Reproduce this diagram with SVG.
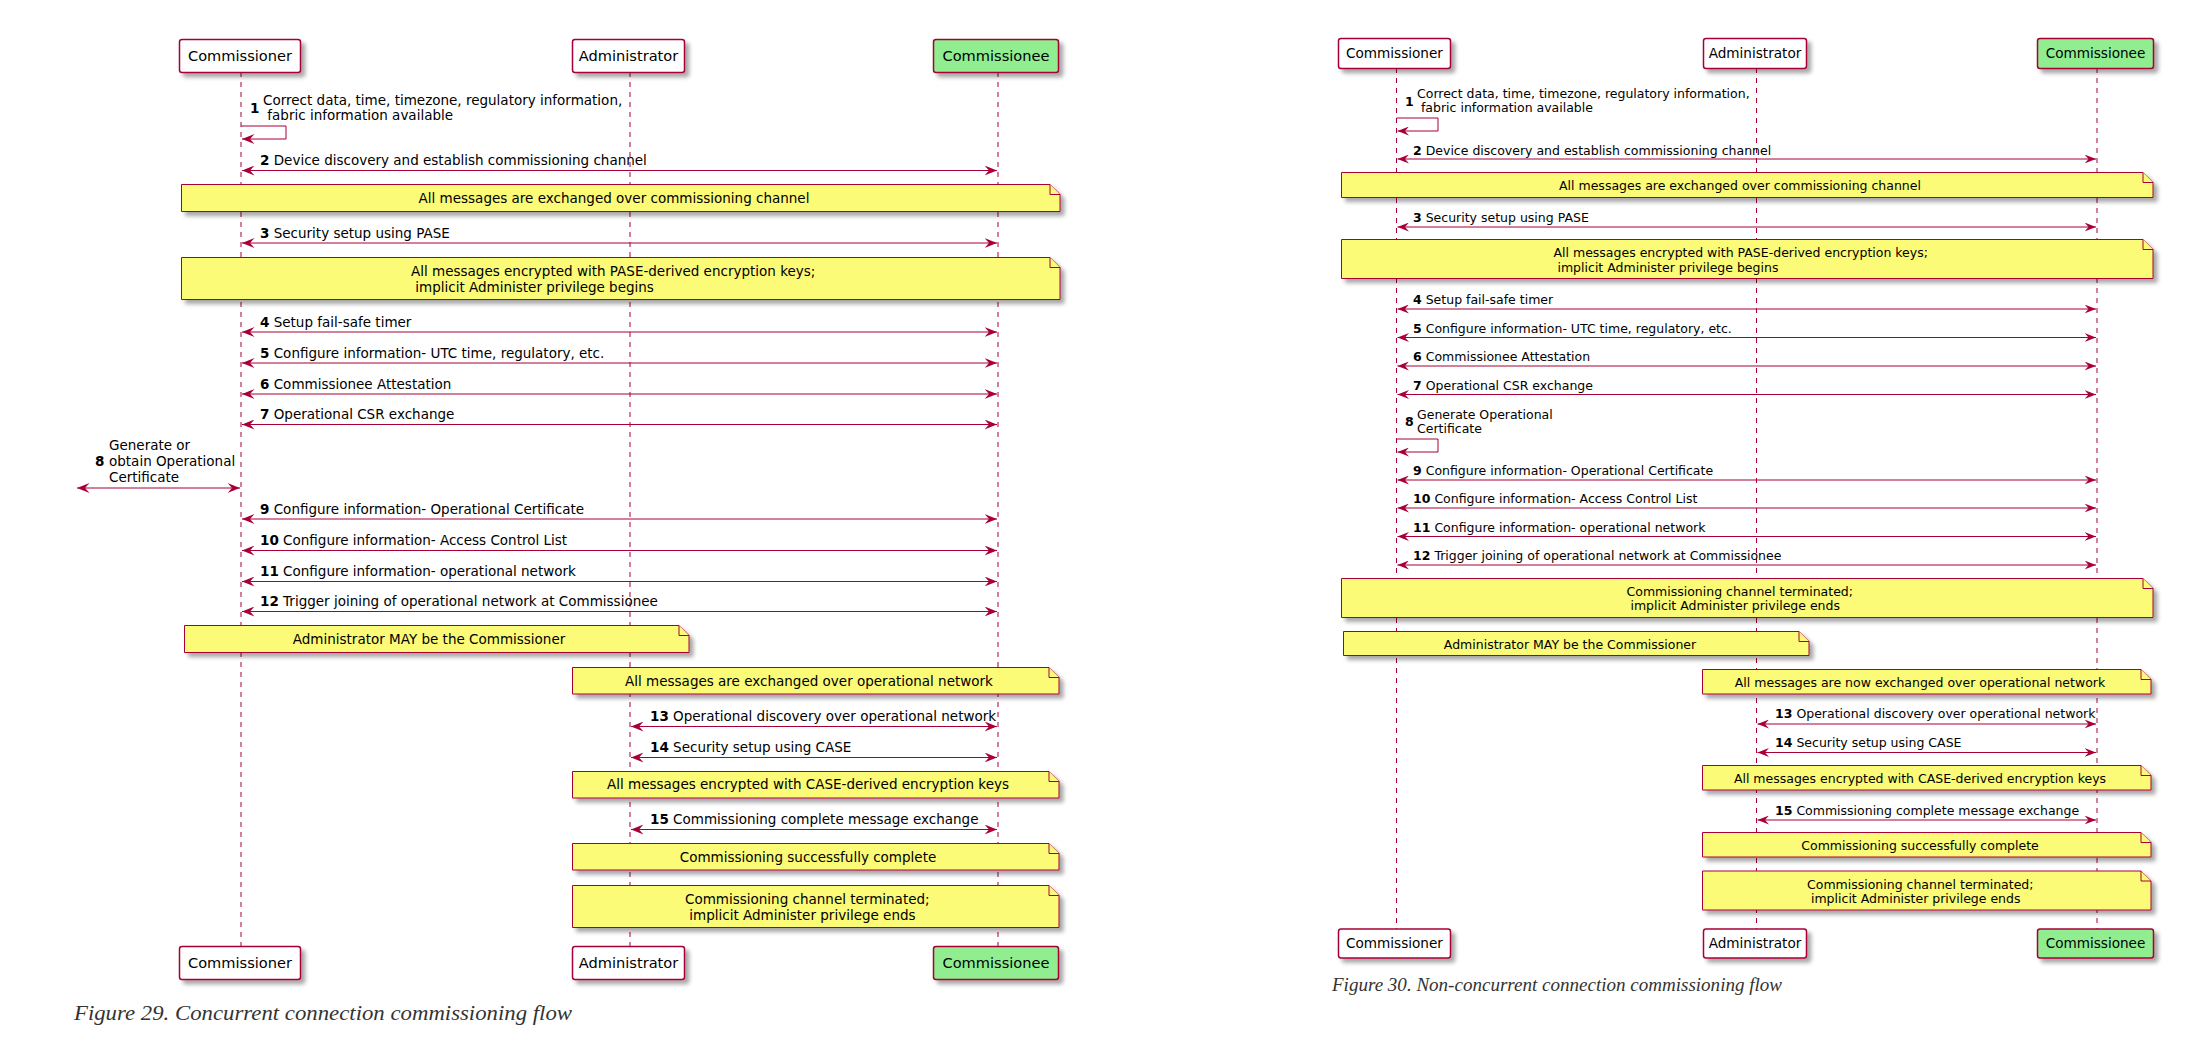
<svg xmlns="http://www.w3.org/2000/svg" width="2209" height="1049" viewBox="0 0 2209 1049">
<style>
text{font-family:"DejaVu Sans",Verdana,sans-serif;fill:#000;white-space:pre}
.box{fill:#fff;stroke:#A80036;stroke-width:1.5;filter:url(#sh)}
.green{fill:#90EE90}
.life{stroke:#A80036;stroke-width:1;stroke-dasharray:5,5;fill:none}
.note{fill:#FBFB77;stroke:#A80036;stroke-width:1;filter:url(#sh)}
.fold{fill:#FBFB77;stroke:#A80036;stroke-width:1}
.mL{stroke:#A80036;stroke-width:1;fill:none;marker-start:url(#aL);marker-end:url(#aL)}
.mR{stroke:#A80036;stroke-width:1;fill:none;marker-start:url(#aR);marker-end:url(#aR)}
.sL{stroke:#A80036;stroke-width:1;fill:none;marker-end:url(#aL)}
.sR{stroke:#A80036;stroke-width:1;fill:none;marker-end:url(#aR)}
.pL{font-size:14.6px;text-anchor:middle}
.pR{font-size:13.6px;text-anchor:middle}
.tL{font-size:13.5px}
.tR{font-size:12.5px}
.c{text-anchor:middle}
.cap{font-family:"Liberation Serif","Times New Roman",serif;font-style:italic;fill:#333}
</style>
<defs>
<filter id="sh" x="-5%" y="-20%" width="115%" height="160%">
<feGaussianBlur in="SourceAlpha" stdDeviation="2"/>
<feOffset dx="4" dy="4" result="o"/>
<feComponentTransfer><feFuncA type="linear" slope="0.35"/></feComponentTransfer>
<feMerge><feMergeNode/><feMergeNode in="SourceGraphic"/></feMerge>
</filter>
<marker id="aL" viewBox="0 0 13 10" refX="12.5" refY="5" markerWidth="13" markerHeight="10" markerUnits="userSpaceOnUse" orient="auto-start-reverse">
<path d="M0,0 L12.5,5 L0,10 L4.5,5 Z" fill="#A80036"/>
</marker>
<marker id="aR" viewBox="0 0 12 9" refX="11.5" refY="4.5" markerWidth="12" markerHeight="9" markerUnits="userSpaceOnUse" orient="auto-start-reverse">
<path d="M0,0 L11.5,4.5 L0,9 L4,4.5 Z" fill="#A80036"/>
</marker>
</defs>
<rect width="2209" height="1049" fill="#fff"/>

<!-- ===== LEFT DIAGRAM (Figure 29) ===== -->
<g id="L-commissioner">
<line class="life" x1="241" y1="72" x2="241" y2="946"/>
<rect class="box" x="179.5" y="39.5" width="121" height="33" rx="2.5"/>
<text class="pL" x="240" y="61">Commissioner</text>
<rect class="box" x="179.5" y="946.5" width="121" height="33" rx="2.5"/>
<text class="pL" x="240" y="968">Commissioner</text>
</g>
<g id="L-administrator">
<line class="life" x1="630" y1="72" x2="630" y2="946"/>
<rect class="box" x="572.5" y="39.5" width="112" height="33" rx="2.5"/>
<text class="pL" x="628.5" y="61">Administrator</text>
<rect class="box" x="572.5" y="946.5" width="112" height="33" rx="2.5"/>
<text class="pL" x="628.5" y="968">Administrator</text>
</g>
<g id="L-commissionee">
<line class="life" x1="998" y1="72" x2="998" y2="946"/>
<rect class="box green" x="933.5" y="39.5" width="125" height="33" rx="2.5"/>
<text class="pL" x="996" y="61">Commissionee</text>
<rect class="box green" x="933.5" y="946.5" width="125" height="33" rx="2.5"/>
<text class="pL" x="996" y="968">Commissionee</text>
</g>

<g id="L-note1">
<path class="note" d="M181.5,184.5 H1050 L1060,194.5 V211.5 H181.5 Z"/>
<path class="fold" d="M1050,184.5 V194.5 H1060"/>
<text class="tL c" x="614" y="203">All messages are exchanged over commissioning channel</text>
</g>
<g id="L-note2">
<path class="note" d="M181.5,257.5 H1050 L1060,267.5 V299.5 H181.5 Z"/>
<path class="fold" d="M1050,257.5 V267.5 H1060"/>
<text class="tL" x="411" y="276">All messages encrypted with PASE-derived encryption keys;</text>
<text class="tL" x="411" y="292"> implicit Administer privilege begins</text>
</g>
<g id="L-note3">
<path class="note" d="M184.5,625.5 H679 L689,635.5 V652.5 H184.5 Z"/>
<path class="fold" d="M679,625.5 V635.5 H689"/>
<text class="tL c" x="429" y="644">Administrator MAY be the Commissioner</text>
</g>
<g id="L-note4">
<path class="note" d="M572.5,667.5 H1049 L1059,677.5 V694 H572.5 Z"/>
<path class="fold" d="M1049,667.5 V677.5 H1059"/>
<text class="tL c" x="809" y="685.5">All messages are exchanged over operational network</text>
</g>
<g id="L-note5">
<path class="note" d="M572.5,771.5 H1049 L1059,781.5 V798 H572.5 Z"/>
<path class="fold" d="M1049,771.5 V781.5 H1059"/>
<text class="tL c" x="808" y="789">All messages encrypted with CASE-derived encryption keys</text>
</g>
<g id="L-note6">
<path class="note" d="M572.5,843.5 H1049 L1059,853.5 V870 H572.5 Z"/>
<path class="fold" d="M1049,843.5 V853.5 H1059"/>
<text class="tL c" x="808" y="861.5">Commissioning successfully complete</text>
</g>
<g id="L-note7">
<path class="note" d="M572.5,885.5 H1049 L1059,895.5 V927.5 H572.5 Z"/>
<path class="fold" d="M1049,885.5 V895.5 H1059"/>
<text class="tL" x="685" y="903.5">Commissioning channel terminated;</text>
<text class="tL" x="685" y="919.5"> implicit Administer privilege ends</text>
</g>

<g id="L-connectors">
<path class="sL" d="M241,126 H286 V139 H242"/>
<text class="tL" x="250" y="113" font-weight="bold">1</text>
<text class="tL" x="263" y="105">Correct data, time, timezone, regulatory information,</text>
<text class="tL" x="263" y="120"> fabric information available</text>

<line class="mL" x1="242" y1="170.5" x2="997" y2="170.5"/>
<text class="tL" x="260" y="165"><tspan font-weight="bold">2</tspan> Device discovery and establish commissioning channel</text>
<line class="mL" x1="242" y1="243" x2="997" y2="243"/>
<text class="tL" x="260" y="237.5"><tspan font-weight="bold">3</tspan> Security setup using PASE</text>
<line class="mL" x1="242" y1="332" x2="997" y2="332"/>
<text class="tL" x="260" y="326.5"><tspan font-weight="bold">4</tspan> Setup fail-safe timer</text>
<line class="mL" x1="242" y1="363" x2="997" y2="363"/>
<text class="tL" x="260" y="357.5"><tspan font-weight="bold">5</tspan> Configure information- UTC time, regulatory, etc.</text>
<line class="mL" x1="242" y1="394" x2="997" y2="394"/>
<text class="tL" x="260" y="388.5"><tspan font-weight="bold">6</tspan> Commissionee Attestation</text>
<line class="mL" x1="242" y1="424.5" x2="997" y2="424.5"/>
<text class="tL" x="260" y="419"><tspan font-weight="bold">7</tspan> Operational CSR exchange</text>

<line class="mL" x1="77" y1="488" x2="240" y2="488"/>
<text class="tL" x="95" y="466" font-weight="bold">8</text>
<text class="tL" x="109" y="450">Generate or</text>
<text class="tL" x="109" y="466">obtain Operational</text>
<text class="tL" x="109" y="482">Certificate</text>

<line class="mL" x1="242" y1="519" x2="997" y2="519"/>
<text class="tL" x="260" y="513.5"><tspan font-weight="bold">9</tspan> Configure information- Operational Certificate</text>
<line class="mL" x1="242" y1="550.5" x2="997" y2="550.5"/>
<text class="tL" x="260" y="545"><tspan font-weight="bold">10</tspan> Configure information- Access Control List</text>
<line class="mL" x1="242" y1="581.5" x2="997" y2="581.5"/>
<text class="tL" x="260" y="576"><tspan font-weight="bold">11</tspan> Configure information- operational network</text>
<line class="mL" x1="242" y1="611.5" x2="997" y2="611.5"/>
<text class="tL" x="260" y="606"><tspan font-weight="bold">12</tspan> Trigger joining of operational network at Commissionee</text>

<line class="mL" x1="631" y1="726.5" x2="997" y2="726.5"/>
<text class="tL" x="650" y="720.5"><tspan font-weight="bold">13</tspan> Operational discovery over operational network</text>
<line class="mL" x1="631" y1="757.5" x2="997" y2="757.5"/>
<text class="tL" x="650" y="752"><tspan font-weight="bold">14</tspan> Security setup using CASE</text>
<line class="mL" x1="631" y1="829.5" x2="997" y2="829.5"/>
<text class="tL" x="650" y="824"><tspan font-weight="bold">15</tspan> Commissioning complete message exchange</text>
</g>

<text class="cap" x="74" y="1020" font-size="21" textLength="498" lengthAdjust="spacingAndGlyphs">Figure 29. Concurrent connection commissioning flow</text>

<!-- ===== RIGHT DIAGRAM (Figure 30) ===== -->
<g id="R-commissioner">
<line class="life" x1="1396.5" y1="68" x2="1396.5" y2="929"/>
<rect class="box" x="1338.5" y="38.5" width="112" height="30" rx="2.5"/>
<text class="pR" x="1394.5" y="58">Commissioner</text>
<rect class="box" x="1338.5" y="929" width="112" height="29" rx="2.5"/>
<text class="pR" x="1394.5" y="948">Commissioner</text>
</g>
<g id="R-administrator">
<line class="life" x1="1756.5" y1="68" x2="1756.5" y2="929"/>
<rect class="box" x="1703.5" y="38.5" width="103" height="30" rx="2.5"/>
<text class="pR" x="1755" y="58">Administrator</text>
<rect class="box" x="1703.5" y="929" width="103" height="29" rx="2.5"/>
<text class="pR" x="1755" y="948">Administrator</text>
</g>
<g id="R-commissionee">
<line class="life" x1="2097" y1="68" x2="2097" y2="929"/>
<rect class="box green" x="2037.5" y="38.5" width="116" height="30" rx="2.5"/>
<text class="pR" x="2095.5" y="58">Commissionee</text>
<rect class="box green" x="2037.5" y="929" width="116" height="29" rx="2.5"/>
<text class="pR" x="2095.5" y="948">Commissionee</text>
</g>

<g id="R-note1">
<path class="note" d="M1341.5,172.5 H2143 L2153,182.5 V197.5 H1341.5 Z"/>
<path class="fold" d="M2143,172.5 V182.5 H2153"/>
<text class="tR c" x="1740" y="189.5">All messages are exchanged over commissioning channel</text>
</g>
<g id="R-note2">
<path class="note" d="M1341.5,239.5 H2143 L2153,249.5 V278.5 H1341.5 Z"/>
<path class="fold" d="M2143,239.5 V249.5 H2153"/>
<text class="tR" x="1553.5" y="256.5">All messages encrypted with PASE-derived encryption keys;</text>
<text class="tR" x="1553.5" y="271.5"> implicit Administer privilege begins</text>
</g>
<g id="R-note3">
<path class="note" d="M1341.5,578.5 H2143 L2153,588.5 V617.5 H1341.5 Z"/>
<path class="fold" d="M2143,578.5 V588.5 H2153"/>
<text class="tR" x="1626.5" y="595.5">Commissioning channel terminated;</text>
<text class="tR" x="1626.5" y="610"> implicit Administer privilege ends</text>
</g>
<g id="R-note4">
<path class="note" d="M1343.5,631.5 H1799 L1809,641.5 V655.5 H1343.5 Z"/>
<path class="fold" d="M1799,631.5 V641.5 H1809"/>
<text class="tR c" x="1570" y="648.5">Administrator MAY be the Commissioner</text>
</g>
<g id="R-note5">
<path class="note" d="M1702.5,669.5 H2141 L2151,679.5 V694 H1702.5 Z"/>
<path class="fold" d="M2141,669.5 V679.5 H2151"/>
<text class="tR c" x="1920" y="687">All messages are now exchanged over operational network</text>
</g>
<g id="R-note6">
<path class="note" d="M1702.5,765.5 H2141 L2151,775.5 V790 H1702.5 Z"/>
<path class="fold" d="M2141,765.5 V775.5 H2151"/>
<text class="tR c" x="1920" y="782.5">All messages encrypted with CASE-derived encryption keys</text>
</g>
<g id="R-note7">
<path class="note" d="M1702.5,832.5 H2141 L2151,842.5 V857 H1702.5 Z"/>
<path class="fold" d="M2141,832.5 V842.5 H2151"/>
<text class="tR c" x="1920" y="849.5">Commissioning successfully complete</text>
</g>
<g id="R-note8">
<path class="note" d="M1702.5,871 H2141 L2151,881 V910 H1702.5 Z"/>
<path class="fold" d="M2141,871 V881 H2151"/>
<text class="tR" x="1807" y="888.5">Commissioning channel terminated;</text>
<text class="tR" x="1807" y="902.5"> implicit Administer privilege ends</text>
</g>

<g id="R-connectors">
<path class="sR" d="M1396.5,118 H1438 V131 H1397.5"/>
<text class="tR" x="1405" y="105.5" font-weight="bold">1</text>
<text class="tR" x="1417" y="98">Correct data, time, timezone, regulatory information,</text>
<text class="tR" x="1417" y="112"> fabric information available</text>

<line class="mR" x1="1397.5" y1="159" x2="2096" y2="159"/>
<text class="tR" x="1413" y="154.5"><tspan font-weight="bold">2</tspan> Device discovery and establish commissioning channel</text>
<line class="mR" x1="1397.5" y1="227" x2="2096" y2="227"/>
<text class="tR" x="1413" y="222"><tspan font-weight="bold">3</tspan> Security setup using PASE</text>
<line class="mR" x1="1397.5" y1="309" x2="2096" y2="309"/>
<text class="tR" x="1413" y="304"><tspan font-weight="bold">4</tspan> Setup fail-safe timer</text>
<line class="mR" x1="1397.5" y1="337.5" x2="2096" y2="337.5"/>
<text class="tR" x="1413" y="332.5"><tspan font-weight="bold">5</tspan> Configure information- UTC time, regulatory, etc.</text>
<line class="mR" x1="1397.5" y1="366" x2="2096" y2="366"/>
<text class="tR" x="1413" y="361"><tspan font-weight="bold">6</tspan> Commissionee Attestation</text>
<line class="mR" x1="1397.5" y1="394.5" x2="2096" y2="394.5"/>
<text class="tR" x="1413" y="389.5"><tspan font-weight="bold">7</tspan> Operational CSR exchange</text>

<path class="sR" d="M1396.5,439 H1438 V452 H1397.5"/>
<text class="tR" x="1405" y="426" font-weight="bold">8</text>
<text class="tR" x="1417" y="418.5">Generate Operational</text>
<text class="tR" x="1417" y="433">Certificate</text>

<line class="mR" x1="1397.5" y1="480" x2="2096" y2="480"/>
<text class="tR" x="1413" y="475"><tspan font-weight="bold">9</tspan> Configure information- Operational Certificate</text>
<line class="mR" x1="1397.5" y1="508" x2="2096" y2="508"/>
<text class="tR" x="1413" y="503"><tspan font-weight="bold">10</tspan> Configure information- Access Control List</text>
<line class="mR" x1="1397.5" y1="536.5" x2="2096" y2="536.5"/>
<text class="tR" x="1413" y="531.5"><tspan font-weight="bold">11</tspan> Configure information- operational network</text>
<line class="mR" x1="1397.5" y1="565" x2="2096" y2="565"/>
<text class="tR" x="1413" y="560"><tspan font-weight="bold">12</tspan> Trigger joining of operational network at Commissionee</text>

<line class="mR" x1="1757.5" y1="724" x2="2096" y2="724"/>
<text class="tR" x="1775" y="718"><tspan font-weight="bold">13</tspan> Operational discovery over operational network</text>
<line class="mR" x1="1757.5" y1="752.5" x2="2096" y2="752.5"/>
<text class="tR" x="1775" y="746.5"><tspan font-weight="bold">14</tspan> Security setup using CASE</text>
<line class="mR" x1="1757.5" y1="820" x2="2096" y2="820"/>
<text class="tR" x="1775" y="814.5"><tspan font-weight="bold">15</tspan> Commissioning complete message exchange</text>
</g>

<text class="cap" x="1332" y="991" font-size="19" textLength="450" lengthAdjust="spacingAndGlyphs">Figure 30. Non-concurrent connection commissioning flow</text>
</svg>
